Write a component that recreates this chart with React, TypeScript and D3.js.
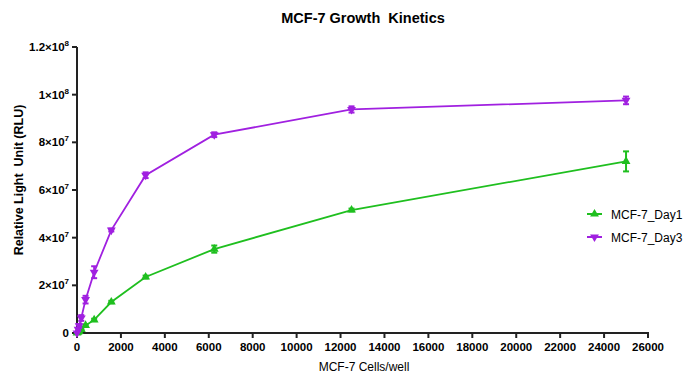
import React from "react";
import * as d3 from "d3";

const cells = [0, 49, 98, 195, 390, 781, 1562, 3125, 6250, 12500, 25000];
const day1 = [0, 0.3e6, 0.7e6, 1.5e6, 3.2e6, 5.5e6, 13e6, 23.5e6, 35.2e6, 51.6e6, 72e6];
const day1Err = [0, 0.1e6, 0.2e6, 0.3e6, 0.4e6, 0.5e6, 0.5e6, 0.6e6, 1.5e6, 0.6e6, 4.2e6];
const day3 = [0, 1.5e6, 3e6, 6.3e6, 14e6, 25.5e6, 43.2e6, 66.2e6, 83.2e6, 93.8e6, 97.6e6];
const day3Err = [0, 0.5e6, 0.8e6, 1.2e6, 1.6e6, 2.5e6, 0.6e6, 1.2e6, 1e6, 1.3e6, 1.6e6];
const xTicks = d3.range(0, 26001, 2000);
const yTicks = [0, 2e7, 4e7, 6e7, 8e7, 1e8, 1.2e8];
const yTickLabels: [string, string][] = [["0", ""], ["2×10", "7"], ["4×10", "7"], ["6×10", "7"], ["8×10", "7"], ["1×10", "8"], ["1.2×10", "8"]];

const series = [
  { name: "MCF-7_Day1", values: day1, err: day1Err, color: "#1fbf1f", up: true },
  { name: "MCF-7_Day3", values: day3, err: day3Err, color: "#a020e0", up: false },
];

const left = 77, right = 648, top = 47, bottom = 333;

export default function App() {
  const x = d3.scaleLinear().domain([0, 26000]).range([left, right]);
  const y = d3.scaleLinear().domain([0, 1.2e8]).range([bottom, top]);
  const tri = d3.symbol().type(d3.symbolTriangle).size(34)();
  const line = d3.line<number>().x((_, i) => x(cells[i])).y((v) => y(v));
  const font = "Arial, 'Liberation Sans', sans-serif";

  return (
    <svg width={686} height={375} style={{ position: "absolute", left: 0, top: 0, background: "#fff" }} fontFamily={font}>
      <text x={363} y={23} textAnchor="middle" fontSize={14.5} fontWeight="bold">{"MCF-7 Growth\u00a0 Kinetics"}</text>
      <text transform={`translate(23,180) rotate(-90)`} textAnchor="middle" fontSize={12.5} fontWeight="bold">{"Relative Light\u00a0 Unit (RLU)"}</text>
      <text x={364} y={371} textAnchor="middle" fontSize={12}>MCF-7 Cells/well</text>

      {/* axes */}
      <line x1={left} x2={left} y1={top} y2={bottom + 1} stroke="#222" strokeWidth={2} />
      <line x1={left - 1} x2={right + 1} y1={bottom} y2={bottom} stroke="#222" strokeWidth={2} />
      {yTicks.map((t, i) => (
        <g key={t}>
          <line x1={left - 5} x2={left} y1={y(t)} y2={y(t)} stroke="#222" strokeWidth={2} />
          <text x={left - 8} y={y(t) + 4} textAnchor="end" fontSize={11.5} fontWeight="bold">
            {yTickLabels[i][0]}
            {yTickLabels[i][1] && <tspan dy={-5} fontSize={8}>{yTickLabels[i][1]}</tspan>}
          </text>
        </g>
      ))}
      {xTicks.map((t) => (
        <g key={t}>
          <line x1={x(t)} x2={x(t)} y1={bottom} y2={bottom + 5} stroke="#222" strokeWidth={2} />
          <text x={x(t)} y={bottom + 18} textAnchor="middle" fontSize={11.5} fontWeight="bold">{t}</text>
        </g>
      ))}

      {series.map((s) => (
        <g key={s.name}>
          <path d={line(s.values) || ""} fill="none" stroke={s.color} strokeWidth={1.8} />
          {s.values.map((v, i) => {
            const cx = x(cells[i]);
            const e = s.err[i];
            return (
              <g key={i}>
                {e > 0 && (
                  <g stroke={s.color} strokeWidth={2}>
                    <line x1={cx} x2={cx} y1={y(v - e)} y2={y(v + e)} />
                    <line x1={cx - 3} x2={cx + 3} y1={y(v - e)} y2={y(v - e)} />
                    <line x1={cx - 3} x2={cx + 3} y1={y(v + e)} y2={y(v + e)} />
                  </g>
                )}
                <path d={tri || ""} transform={`translate(${cx},${y(v)}) rotate(${s.up ? 0 : 180})`} fill={s.color} />
              </g>
            );
          })}
        </g>
      ))}

      {/* legend */}
      {series.map((s, i) => (
        <g key={s.name} transform={`translate(0,${214 + i * 23})`}>
          <line x1={587} x2={602} y1={0} y2={0} stroke={s.color} strokeWidth={2} />
          <path d={tri || ""} transform={`translate(594.5,0) rotate(${s.up ? 0 : 180})`} fill={s.color} />
          <text x={611} y={5} fontSize={12}>{s.name}</text>
        </g>
      ))}
    </svg>
  );
}
